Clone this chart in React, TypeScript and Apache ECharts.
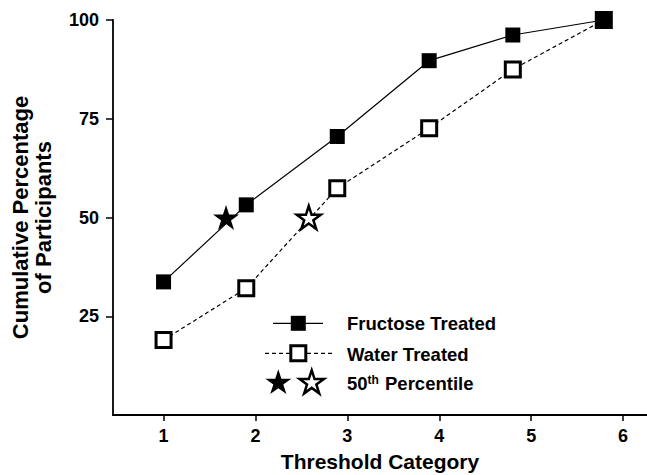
import React, { useEffect, useRef } from "react";
import * as echarts from "echarts";

// ---- data ----
const thresholdCategories = [1, 2, 3, 4, 5, 6];
const percentTicks = [25, 50, 75, 100];
const fructoseX = [1.0, 1.9, 2.89, 3.89, 4.8, 5.79];
const fructoseY = [33.7, 53.2, 70.5, 89.7, 96.2, 100];
const waterX = [1.0, 1.9, 2.89, 3.89, 4.8, 5.79];
const waterY = [19.0, 32.1, 57.4, 72.6, 87.5, 100];
const percentileFructose = [1.68, 50];
const percentileWater = [2.58, 50];
const legendLabels = ["Fructose Treated", "Water Treated", "50{sup|th} Percentile"];
const xTitle = "Threshold Category";
const yTitle = "Cumulative Percentage\nof Participants";

const FONT = "'Liberation Sans', Arial, Helvetica, sans-serif";
const STAR =
  "path://M0,-100L22.45,-30.9L95.1,-30.9L36.33,11.8L58.78,80.9L0,38.2L-58.78,80.9L-36.33,11.8L-95.1,-30.9L-22.45,-30.9Z";

function starPoints(cx: number, cy: number, R: number): number[][] {
  const pts: number[][] = [];
  for (let i = 0; i < 10; i++) {
    const r = i % 2 === 0 ? R : R * 0.382;
    const a = -Math.PI / 2 + (i * Math.PI) / 5;
    pts.push([cx + r * Math.cos(a), cy + r * Math.sin(a)]);
  }
  return pts;
}

export default function App() {
  const ref = useRef<HTMLDivElement>(null);

  useEffect(() => {
    if (!ref.current) return;
    const chart = echarts.init(ref.current, null, { renderer: "svg" });

    const fructoseData = fructoseX.map((x, i) => [x, fructoseY[i]]);
    const waterData = waterX.map((x, i) => [x, waterY[i]]);

    const legendTextStyle = {
      fontSize: 18.5,
      fontWeight: "bold" as const,
      fill: "#000",
      fontFamily: FONT,
      verticalAlign: "middle" as const,
      align: "left" as const,
    };

    const option: any = {
      animation: false,
      backgroundColor: "#ffffff",
      grid: {
        left: 113,
        right: 0,
        top: 20,
        bottom: 60,
        containLabel: false,
        outerBoundsMode: "none",
      },
      xAxis: {
        type: "value",
        min: 0.45,
        max: 6.26,
        name: xTitle,
        nameLocation: "middle",
        nameGap: 36,
        nameTextStyle: { fontSize: 21, fontWeight: "bold", color: "#000", fontFamily: FONT },
        axisLine: { show: true, onZero: false, lineStyle: { color: "#000", width: 1.8 } },
        axisTick: {
          show: true,
          length: 6,
          customValues: thresholdCategories,
          lineStyle: { color: "#000", width: 1.5 },
        },
        axisLabel: {
          customValues: thresholdCategories,
          margin: 12,
          fontSize: 18,
          fontWeight: "bold",
          color: "#000",
          fontFamily: FONT,
        },
        splitLine: { show: false },
      },
      yAxis: {
        type: "value",
        min: 0,
        max: 100,
        name: yTitle,
        nameLocation: "middle",
        nameGap: 58,
        nameTextStyle: {
          fontSize: 22,
          fontWeight: "bold",
          color: "#000",
          fontFamily: FONT,
          lineHeight: 23,
          align: "center",
        },
        axisLine: { show: true, onZero: false, lineStyle: { color: "#000", width: 1.8 } },
        axisTick: {
          show: true,
          length: 7,
          customValues: percentTicks,
          lineStyle: { color: "#000", width: 1.5 },
        },
        axisLabel: {
          customValues: percentTicks,
          margin: 14,
          fontSize: 18,
          fontWeight: "bold",
          color: "#000",
          fontFamily: FONT,
        },
        splitLine: { show: false },
      },
      series: [
        {
          name: "Water Treated",
          type: "line",
          data: waterData,
          symbol: "rect",
          symbolSize: 15,
          clip: false,
          itemStyle: { color: "#fff", borderColor: "#000", borderWidth: 3 },
          lineStyle: { color: "#000", width: 1.2, type: [4, 3] },
          z: 2,
        },
        {
          name: "Fructose Treated",
          type: "line",
          data: fructoseData,
          symbol: "rect",
          symbolSize: 15,
          clip: false,
          itemStyle: { color: "#000", borderWidth: 0 },
          lineStyle: { color: "#000", width: 1.2, type: "solid" },
          z: 3,
        },
        {
          name: "50th Percentile",
          type: "scatter",
          clip: false,
          z: 4,
          data: [
            {
              value: percentileFructose,
              symbol: STAR,
              symbolSize: [26, 25],
              itemStyle: { color: "#000", borderWidth: 0, opacity: 1 },
            },
            {
              value: percentileWater,
              symbol: STAR,
              symbolSize: [24, 23],
              itemStyle: { color: "#fff", borderColor: "#000", borderWidth: 2.5, opacity: 1 },
            },
          ],
        },
      ],
      graphic: [
        // Fructose legend row
        {
          type: "line",
          shape: { x1: 273, y1: 323.3, x2: 323, y2: 323.3 },
          style: { stroke: "#000", lineWidth: 1.2 },
        },
        {
          type: "rect",
          shape: { x: 290.8, y: 315.8, width: 15, height: 15 },
          style: { fill: "#000" },
        },
        {
          type: "text",
          x: 347,
          y: 323.5,
          style: { ...legendTextStyle, text: legendLabels[0] },
        },
        // Water legend row
        {
          type: "line",
          shape: { x1: 265, y1: 353.3, x2: 332, y2: 353.3 },
          style: { stroke: "#000", lineWidth: 1.2, lineDash: [4, 3] },
        },
        {
          type: "rect",
          shape: { x: 290.8, y: 345.8, width: 15, height: 15 },
          style: { fill: "#fff", stroke: "#000", lineWidth: 3 },
        },
        {
          type: "text",
          x: 347,
          y: 354,
          style: { ...legendTextStyle, text: legendLabels[1] },
        },
        // Percentile legend row
        {
          type: "polygon",
          shape: { points: starPoints(278.3, 383, 13.7) },
          style: { fill: "#000" },
        },
        {
          type: "polygon",
          shape: { points: starPoints(311.7, 383, 12.8) },
          style: { fill: "#fff", stroke: "#000", lineWidth: 2.5 },
        },
        {
          type: "text",
          x: 347,
          y: 383,
          style: {
            ...legendTextStyle,
            text: legendLabels[2],
            rich: {
              sup: {
                fontSize: 12,
                fontWeight: "bold",
                fontFamily: FONT,
                fill: "#000",
                verticalAlign: "top",
                padding: [0, 1, 6, 0],
              },
            },
          },
        },
      ],
    };

    chart.setOption(option);
    return () => {
      chart.dispose();
    };
  }, []);

  return (
    <div
      ref={ref}
      style={{ position: "fixed", left: 0, top: 0, width: 647, height: 475, background: "#fff" }}
    />
  );
}
